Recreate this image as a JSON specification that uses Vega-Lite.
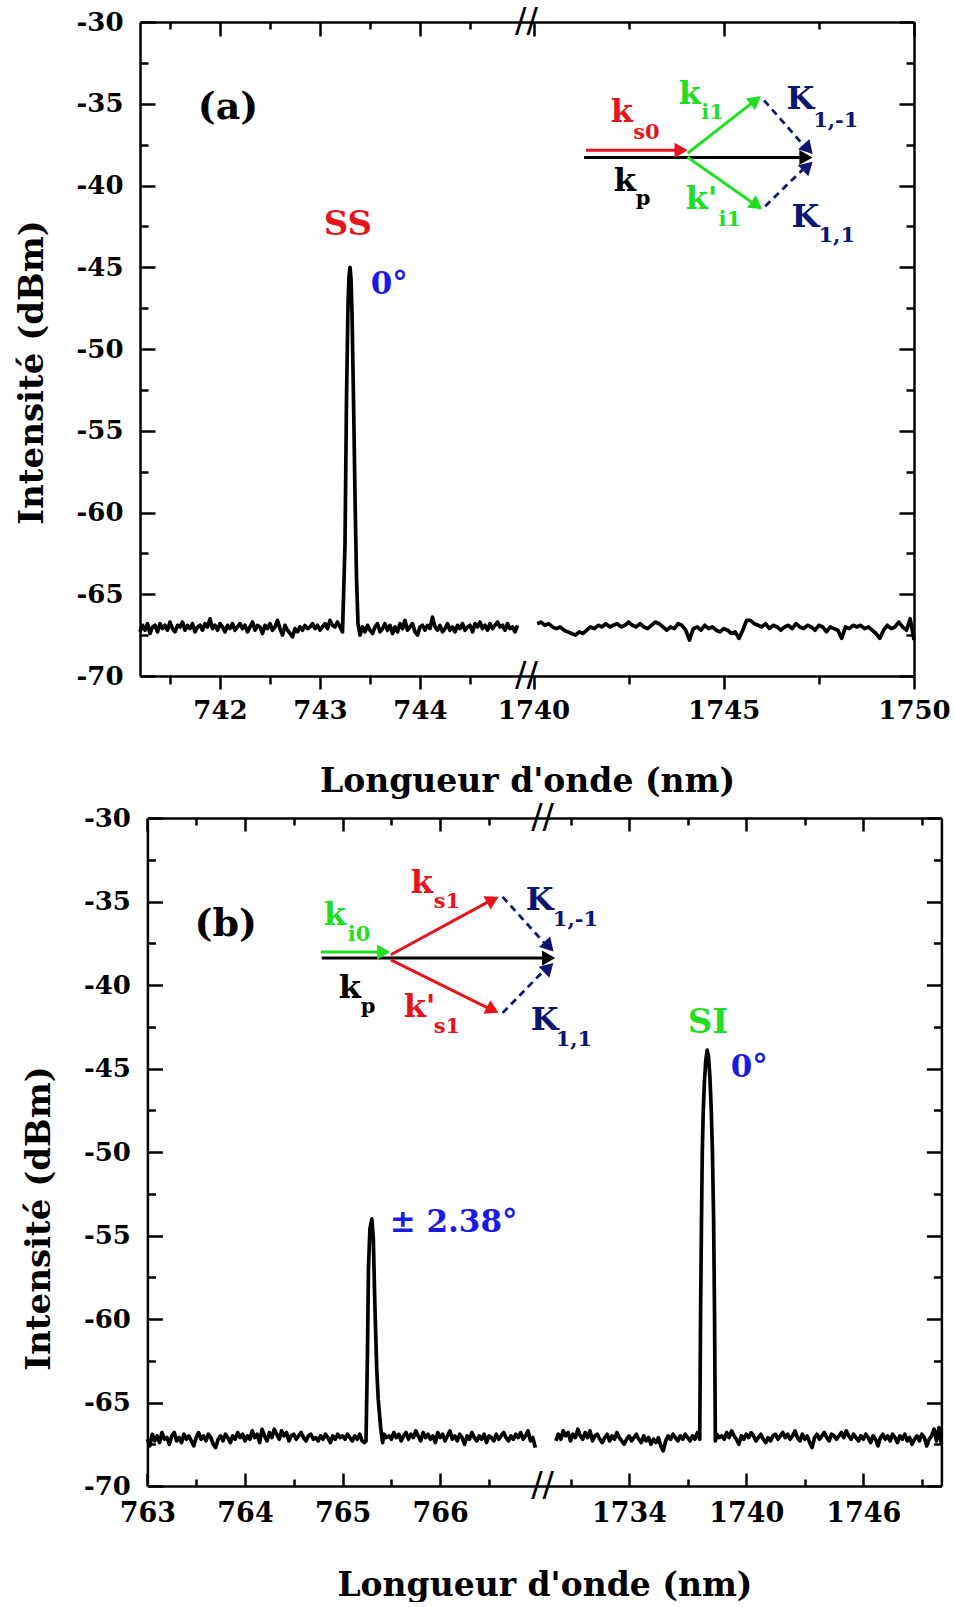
{
"$schema": "https://vega.github.io/schema/vega-lite/v6.json",
"padding": {"left": 15, "top": 5, "right": 0, "bottom": 0},
"config": {
  "view": {"stroke": null},
  "font": "DejaVu Serif",
  "axis": {"grid": false, "domainColor": "black", "domainWidth": 2.5, "tickColor": "black", "tickWidth": 2.5,
    "labelFont": "DejaVu Serif", "labelFontWeight": "bold", "labelFontSize": 26, "labelColor": "black",
    "titleFont": "DejaVu Serif", "titleFontWeight": "bold", "titleColor": "black", "labelFlush": false, "labelOverlap": false},
  "text": {"font": "DejaVu Serif", "fontWeight": "bold", "baseline": "alphabetic"}
},
"columns": 1,
"spacing": 3,
"align": "none",
"bounds": "full",
"resolve": {"scale": {"x": "independent", "y": "independent", "color": "independent", "angle": "independent"}},
"datasets": {
"aL": [
{"g":"L","x":741.2,"y":-67.3},{"g":"L","x":741.225,"y":-66.9},{"g":"L","x":741.25,"y":-67.2},{"g":"L","x":741.275,"y":-66.8},{"g":"L","x":741.3,"y":-67.4},{"g":"L","x":741.325,"y":-67.0},{"g":"L","x":741.35,"y":-66.9},{"g":"L","x":741.375,"y":-67.3},{"g":"L","x":741.4,"y":-66.8},{"g":"L","x":741.425,"y":-67.1},
{"g":"L","x":741.45,"y":-66.9},{"g":"L","x":741.475,"y":-67.2},{"g":"L","x":741.5,"y":-66.7},{"g":"L","x":741.525,"y":-67.1},{"g":"L","x":741.55,"y":-67.3},{"g":"L","x":741.575,"y":-66.9},{"g":"L","x":741.6,"y":-67.0},{"g":"L","x":741.625,"y":-66.7},{"g":"L","x":741.65,"y":-67.2},{"g":"L","x":741.675,"y":-66.9},
{"g":"L","x":741.7,"y":-67.1},{"g":"L","x":741.725,"y":-66.8},{"g":"L","x":741.75,"y":-67.3},{"g":"L","x":741.775,"y":-67.0},{"g":"L","x":741.8,"y":-66.9},{"g":"L","x":741.825,"y":-67.2},{"g":"L","x":741.85,"y":-66.8},{"g":"L","x":741.875,"y":-67.0},{"g":"L","x":741.9,"y":-66.5},{"g":"L","x":741.925,"y":-67.1},
{"g":"L","x":741.95,"y":-66.9},{"g":"L","x":741.975,"y":-67.2},{"g":"L","x":742.0,"y":-66.8},{"g":"L","x":742.025,"y":-67.0},{"g":"L","x":742.05,"y":-67.3},{"g":"L","x":742.075,"y":-66.9},{"g":"L","x":742.1,"y":-67.1},{"g":"L","x":742.125,"y":-66.8},{"g":"L","x":742.15,"y":-67.2},{"g":"L","x":742.175,"y":-67.0},
{"g":"L","x":742.2,"y":-66.8},{"g":"L","x":742.225,"y":-67.1},{"g":"L","x":742.25,"y":-66.9},{"g":"L","x":742.275,"y":-67.3},{"g":"L","x":742.3,"y":-67.0},{"g":"L","x":742.325,"y":-66.7},{"g":"L","x":742.35,"y":-67.2},{"g":"L","x":742.375,"y":-66.9},{"g":"L","x":742.4,"y":-67.0},{"g":"L","x":742.425,"y":-67.4},
{"g":"L","x":742.45,"y":-66.9},{"g":"L","x":742.475,"y":-67.1},{"g":"L","x":742.5,"y":-66.8},{"g":"L","x":742.525,"y":-67.2},{"g":"L","x":742.55,"y":-67.0},{"g":"L","x":742.575,"y":-66.6},{"g":"L","x":742.6,"y":-67.1},{"g":"L","x":742.625,"y":-67.5},{"g":"L","x":742.65,"y":-66.9},{"g":"L","x":742.675,"y":-67.2},
{"g":"L","x":742.7,"y":-67.4},{"g":"L","x":742.725,"y":-67.6},{"g":"L","x":742.75,"y":-67.1},{"g":"L","x":742.775,"y":-67.3},{"g":"L","x":742.8,"y":-67.0},{"g":"L","x":742.825,"y":-67.2},{"g":"L","x":742.85,"y":-66.9},{"g":"L","x":742.875,"y":-67.1},{"g":"L","x":742.9,"y":-67.0},{"g":"L","x":742.925,"y":-66.8},
{"g":"L","x":742.95,"y":-67.1},{"g":"L","x":742.975,"y":-66.9},{"g":"L","x":743.0,"y":-67.2},{"g":"L","x":743.025,"y":-67.0},{"g":"L","x":743.05,"y":-66.8},{"g":"L","x":743.075,"y":-67.1},{"g":"L","x":743.1,"y":-66.6},{"g":"L","x":743.125,"y":-66.9},{"g":"L","x":743.15,"y":-67.0},{"g":"L","x":743.175,"y":-66.7},
{"g":"L","x":743.2,"y":-67.0},
{"g":"L","x":743.225,"y":-67.3},{"g":"L","x":743.25,"y":-62},{"g":"L","x":743.265,"y":-53},{"g":"L","x":743.28,"y":-47.3},{"g":"L","x":743.29,"y":-45.6},{"g":"L","x":743.3,"y":-45.0},{"g":"L","x":743.31,"y":-45.7},{"g":"L","x":743.32,"y":-47.8},{"g":"L","x":743.335,"y":-53},{"g":"L","x":743.35,"y":-59},{"g":"L","x":743.365,"y":-64},{"g":"L","x":743.38,"y":-66.8},{"g":"L","x":743.4,"y":-67.5},
{"g":"L","x":743.425,"y":-67.0},{"g":"L","x":743.45,"y":-67.3},{"g":"L","x":743.475,"y":-66.9},{"g":"L","x":743.5,"y":-67.2},{"g":"L","x":743.525,"y":-67.4},{"g":"L","x":743.55,"y":-67.0},{"g":"L","x":743.575,"y":-66.8},{"g":"L","x":743.6,"y":-67.3},{"g":"L","x":743.625,"y":-67.1},{"g":"L","x":743.65,"y":-66.8},
{"g":"L","x":743.675,"y":-67.2},{"g":"L","x":743.7,"y":-66.9},{"g":"L","x":743.725,"y":-67.4},{"g":"L","x":743.75,"y":-67.0},{"g":"L","x":743.775,"y":-67.3},{"g":"L","x":743.8,"y":-66.8},{"g":"L","x":743.825,"y":-67.1},{"g":"L","x":743.85,"y":-66.6},{"g":"L","x":743.875,"y":-67.2},{"g":"L","x":743.9,"y":-67.0},
{"g":"L","x":743.925,"y":-66.8},{"g":"L","x":743.95,"y":-67.3},{"g":"L","x":743.975,"y":-67.5},{"g":"L","x":744.0,"y":-67.0},{"g":"L","x":744.025,"y":-66.9},{"g":"L","x":744.05,"y":-67.2},{"g":"L","x":744.075,"y":-66.9},{"g":"L","x":744.1,"y":-67.1},{"g":"L","x":744.125,"y":-66.4},{"g":"L","x":744.15,"y":-67.0},
{"g":"L","x":744.175,"y":-67.2},{"g":"L","x":744.2,"y":-66.9},{"g":"L","x":744.225,"y":-67.3},{"g":"L","x":744.25,"y":-67.1},{"g":"L","x":744.275,"y":-66.8},{"g":"L","x":744.3,"y":-67.2},{"g":"L","x":744.325,"y":-67.0},{"g":"L","x":744.35,"y":-67.3},{"g":"L","x":744.375,"y":-66.9},{"g":"L","x":744.4,"y":-67.1},
{"g":"L","x":744.425,"y":-66.8},{"g":"L","x":744.45,"y":-67.2},{"g":"L","x":744.475,"y":-67.0},{"g":"L","x":744.5,"y":-66.9},{"g":"L","x":744.525,"y":-67.3},{"g":"L","x":744.55,"y":-66.8},{"g":"L","x":744.575,"y":-67.0},{"g":"L","x":744.6,"y":-66.7},{"g":"L","x":744.625,"y":-67.1},{"g":"L","x":744.65,"y":-66.9},
{"g":"L","x":744.675,"y":-67.2},{"g":"L","x":744.7,"y":-66.8},{"g":"L","x":744.725,"y":-67.1},{"g":"L","x":744.75,"y":-66.9},{"g":"L","x":744.775,"y":-66.7},{"g":"L","x":744.8,"y":-67.0},{"g":"L","x":744.825,"y":-66.9},{"g":"L","x":744.85,"y":-67.2},{"g":"L","x":744.875,"y":-66.8},{"g":"L","x":744.9,"y":-67.1},{"g":"L","x":744.925,"y":-67.0},{"g":"L","x":744.95,"y":-67.3},{"g":"L","x":744.975,"y":-66.9},
{"g":"R","x":1740.1,"y":-66.8},{"g":"R","x":1740.2,"y":-66.7},{"g":"R","x":1740.3,"y":-66.9},{"g":"R","x":1740.4,"y":-66.8},{"g":"R","x":1740.5,"y":-67.0},{"g":"R","x":1740.6,"y":-67.1},{"g":"R","x":1740.7,"y":-67.0},{"g":"R","x":1740.8,"y":-67.2},{"g":"R","x":1740.9,"y":-67.3},{"g":"R","x":1741.0,"y":-67.4},
{"g":"R","x":1741.1,"y":-67.5},{"g":"R","x":1741.2,"y":-67.3},{"g":"R","x":1741.3,"y":-67.4},{"g":"R","x":1741.4,"y":-67.2},{"g":"R","x":1741.5,"y":-67.0},{"g":"R","x":1741.6,"y":-67.1},{"g":"R","x":1741.7,"y":-66.9},{"g":"R","x":1741.8,"y":-67.0},{"g":"R","x":1741.9,"y":-66.8},{"g":"R","x":1742.0,"y":-67.0},
{"g":"R","x":1742.1,"y":-66.9},{"g":"R","x":1742.2,"y":-66.8},{"g":"R","x":1742.3,"y":-67.0},{"g":"R","x":1742.4,"y":-66.9},{"g":"R","x":1742.5,"y":-66.7},{"g":"R","x":1742.6,"y":-66.9},{"g":"R","x":1742.7,"y":-67.0},{"g":"R","x":1742.8,"y":-66.8},{"g":"R","x":1742.9,"y":-67.0},{"g":"R","x":1743.0,"y":-67.1},
{"g":"R","x":1743.1,"y":-66.9},{"g":"R","x":1743.2,"y":-66.7},{"g":"R","x":1743.3,"y":-66.8},{"g":"R","x":1743.4,"y":-67.0},{"g":"R","x":1743.5,"y":-67.2},{"g":"R","x":1743.6,"y":-67.0},{"g":"R","x":1743.7,"y":-67.1},{"g":"R","x":1743.8,"y":-66.8},{"g":"R","x":1743.9,"y":-66.9},{"g":"R","x":1744.0,"y":-67.2},
{"g":"R","x":1744.1,"y":-67.8},{"g":"R","x":1744.2,"y":-67.1},{"g":"R","x":1744.3,"y":-67.0},{"g":"R","x":1744.4,"y":-67.2},{"g":"R","x":1744.5,"y":-66.9},{"g":"R","x":1744.6,"y":-67.1},{"g":"R","x":1744.7,"y":-67.0},{"g":"R","x":1744.8,"y":-67.2},{"g":"R","x":1744.9,"y":-67.3},{"g":"R","x":1745.0,"y":-67.1},
{"g":"R","x":1745.1,"y":-67.2},{"g":"R","x":1745.2,"y":-67.4},{"g":"R","x":1745.3,"y":-67.3},{"g":"R","x":1745.4,"y":-67.7},{"g":"R","x":1745.5,"y":-67.2},{"g":"R","x":1745.6,"y":-66.6},{"g":"R","x":1745.7,"y":-66.6},{"g":"R","x":1745.8,"y":-66.8},{"g":"R","x":1745.9,"y":-66.9},{"g":"R","x":1746.0,"y":-67.0},
{"g":"R","x":1746.1,"y":-66.8},{"g":"R","x":1746.2,"y":-67.1},{"g":"R","x":1746.3,"y":-66.9},{"g":"R","x":1746.4,"y":-67.0},{"g":"R","x":1746.5,"y":-67.2},{"g":"R","x":1746.6,"y":-67.0},{"g":"R","x":1746.7,"y":-66.9},{"g":"R","x":1746.8,"y":-67.1},{"g":"R","x":1746.9,"y":-66.8},{"g":"R","x":1747.0,"y":-67.0},
{"g":"R","x":1747.1,"y":-67.1},{"g":"R","x":1747.2,"y":-66.9},{"g":"R","x":1747.3,"y":-67.0},{"g":"R","x":1747.4,"y":-67.2},{"g":"R","x":1747.5,"y":-66.9},{"g":"R","x":1747.6,"y":-67.0},{"g":"R","x":1747.7,"y":-67.3},{"g":"R","x":1747.8,"y":-67.0},{"g":"R","x":1747.9,"y":-67.1},{"g":"R","x":1748.0,"y":-67.2},
{"g":"R","x":1748.1,"y":-67.7},{"g":"R","x":1748.2,"y":-67.0},{"g":"R","x":1748.3,"y":-67.1},{"g":"R","x":1748.4,"y":-66.9},{"g":"R","x":1748.5,"y":-67.0},{"g":"R","x":1748.6,"y":-66.9},{"g":"R","x":1748.7,"y":-67.1},{"g":"R","x":1748.8,"y":-67.0},{"g":"R","x":1748.9,"y":-67.2},{"g":"R","x":1749.0,"y":-67.4},
{"g":"R","x":1749.1,"y":-67.7},{"g":"R","x":1749.2,"y":-67.2},{"g":"R","x":1749.3,"y":-66.9},{"g":"R","x":1749.4,"y":-67.1},{"g":"R","x":1749.5,"y":-67.0},{"g":"R","x":1749.6,"y":-66.7},{"g":"R","x":1749.7,"y":-67.0},{"g":"R","x":1749.8,"y":-67.2},{"g":"R","x":1749.9,"y":-66.5},{"g":"R","x":1750.0,"y":-67.8}
],
"aS": [
{"x":1741.33,"y":-38.29,"x2":1747.2,"y2":-38.29,"c":"p"},
{"x":1741.38,"y":-37.85,"x2":1743.98,"y2":-37.85,"c":"s"},
{"x":1744.05,"y":-38.03,"x2":1745.93,"y2":-34.61,"c":"i"},
{"x":1744.05,"y":-38.27,"x2":1745.96,"y2":-41.39,"c":"i"}
],
"aD": [
{"x":1746.06,"y":-34.79,"x2":1747.19,"y2":-37.79},
{"x":1746.09,"y":-41.27,"x2":1747.19,"y2":-38.76}
],
"aH": [
{"x":1743.88,"y":-37.85,"a":0,"c":"s"},
{"x":1745.84,"y":-34.79,"a":322.5,"c":"i"},
{"x":1745.87,"y":-41.21,"a":34.7,"c":"i"},
{"x":1747.16,"y":-38.29,"a":0,"c":"p"},
{"x":1747.22,"y":-37.77,"a":47.7,"c":"K"},
{"x":1747.21,"y":-38.82,"a":316.2,"c":"K"}
],
"aT": [
{"x":1742.03,"y":-36.14,"t":"k","c":"s","r":"vec"},
{"x":1742.62,"y":-37.18,"t":"s0","c":"s","r":"sub"},
{"x":1743.82,"y":-35.03,"t":"k","c":"i","r":"vec"},
{"x":1744.41,"y":-35.95,"t":"i1","c":"i","r":"sub"},
{"x":1746.65,"y":-35.34,"t":"K","c":"K","r":"vec"},
{"x":1747.35,"y":-36.44,"t":"1,-1","c":"K","r":"sub"},
{"x":1742.11,"y":-40.35,"t":"k","c":"p","r":"vec"},
{"x":1742.69,"y":-41.2,"t":"p","c":"p","r":"sub"},
{"x":1744.0,"y":-41.46,"t":"k'","c":"i","r":"vec"},
{"x":1744.86,"y":-42.5,"t":"i1","c":"i","r":"sub"},
{"x":1746.78,"y":-42.56,"t":"K","c":"K","r":"vec"},
{"x":1747.49,"y":-43.48,"t":"1,1","c":"K","r":"sub"},
{"x":743.507,"y":-46.66,"t":"0°","c":"ang","r":"ang"},
{"x":742.08,"y":-35.96,"t":"(a)","c":"p","r":"panel"},
{"x":743.28,"y":-43.0,"t":"SS","c":"s","r":"peak"}
],
"aB": [{"x":1000,"y":-30},{"x":1000,"y":-70}],
"bL": [
{"g":"L","x":763.0,"y":-67.2},{"g":"L","x":763.025,"y":-67.6},{"g":"L","x":763.05,"y":-66.9},{"g":"L","x":763.075,"y":-67.3},{"g":"L","x":763.1,"y":-67.0},{"g":"L","x":763.125,"y":-67.4},{"g":"L","x":763.15,"y":-66.8},{"g":"L","x":763.175,"y":-67.2},{"g":"L","x":763.2,"y":-67.1},{"g":"L","x":763.225,"y":-67.5},
{"g":"L","x":763.25,"y":-67.0},{"g":"L","x":763.275,"y":-66.8},{"g":"L","x":763.3,"y":-67.3},{"g":"L","x":763.325,"y":-67.1},{"g":"L","x":763.35,"y":-67.4},{"g":"L","x":763.375,"y":-66.9},{"g":"L","x":763.4,"y":-67.2},{"g":"L","x":763.425,"y":-67.0},{"g":"L","x":763.45,"y":-67.3},{"g":"L","x":763.475,"y":-67.6},
{"g":"L","x":763.5,"y":-67.1},{"g":"L","x":763.525,"y":-66.8},{"g":"L","x":763.55,"y":-67.2},{"g":"L","x":763.575,"y":-67.0},{"g":"L","x":763.6,"y":-67.3},{"g":"L","x":763.625,"y":-66.9},{"g":"L","x":763.65,"y":-67.1},{"g":"L","x":763.675,"y":-67.5},{"g":"L","x":763.7,"y":-67.7},{"g":"L","x":763.725,"y":-67.2},
{"g":"L","x":763.75,"y":-67.0},{"g":"L","x":763.775,"y":-67.3},{"g":"L","x":763.8,"y":-66.9},{"g":"L","x":763.825,"y":-67.1},{"g":"L","x":763.85,"y":-67.4},{"g":"L","x":763.875,"y":-67.0},{"g":"L","x":763.9,"y":-67.2},{"g":"L","x":763.925,"y":-66.8},{"g":"L","x":763.95,"y":-67.1},{"g":"L","x":763.975,"y":-66.9},
{"g":"L","x":764.0,"y":-67.3},{"g":"L","x":764.025,"y":-67.0},{"g":"L","x":764.05,"y":-67.2},{"g":"L","x":764.075,"y":-66.7},{"g":"L","x":764.1,"y":-67.1},{"g":"L","x":764.125,"y":-66.9},{"g":"L","x":764.15,"y":-67.4},{"g":"L","x":764.175,"y":-66.6},{"g":"L","x":764.2,"y":-67.0},{"g":"L","x":764.225,"y":-67.3},
{"g":"L","x":764.25,"y":-66.8},{"g":"L","x":764.275,"y":-67.1},{"g":"L","x":764.3,"y":-66.6},{"g":"L","x":764.325,"y":-66.9},{"g":"L","x":764.35,"y":-67.2},{"g":"L","x":764.375,"y":-66.7},{"g":"L","x":764.4,"y":-67.0},{"g":"L","x":764.425,"y":-66.8},{"g":"L","x":764.45,"y":-67.3},{"g":"L","x":764.475,"y":-67.0},
{"g":"L","x":764.5,"y":-66.9},{"g":"L","x":764.525,"y":-67.2},{"g":"L","x":764.55,"y":-67.0},{"g":"L","x":764.575,"y":-66.8},{"g":"L","x":764.6,"y":-67.1},{"g":"L","x":764.625,"y":-67.3},{"g":"L","x":764.65,"y":-67.0},{"g":"L","x":764.675,"y":-66.9},{"g":"L","x":764.7,"y":-67.2},{"g":"L","x":764.725,"y":-67.1},
{"g":"L","x":764.75,"y":-67.3},{"g":"L","x":764.775,"y":-67.0},{"g":"L","x":764.8,"y":-67.2},{"g":"L","x":764.825,"y":-66.9},{"g":"L","x":764.85,"y":-67.1},{"g":"L","x":764.875,"y":-67.4},{"g":"L","x":764.9,"y":-67.0},{"g":"L","x":764.925,"y":-67.2},{"g":"L","x":764.95,"y":-66.9},{"g":"L","x":764.975,"y":-67.1},
{"g":"L","x":765.0,"y":-67.0},{"g":"L","x":765.025,"y":-67.2},{"g":"L","x":765.05,"y":-66.9},{"g":"L","x":765.075,"y":-67.1},{"g":"L","x":765.1,"y":-67.3},{"g":"L","x":765.125,"y":-67.0},{"g":"L","x":765.15,"y":-67.2},{"g":"L","x":765.175,"y":-66.9},{"g":"L","x":765.2,"y":-67.3},{"g":"L","x":765.225,"y":-67.4},
{"g":"L","x":765.24,"y":-67.3},{"g":"L","x":765.255,"y":-62},{"g":"L","x":765.265,"y":-57},{"g":"L","x":765.28,"y":-54.6},{"g":"L","x":765.3,"y":-54.0},{"g":"L","x":765.315,"y":-55.2},{"g":"L","x":765.33,"y":-59},{"g":"L","x":765.35,"y":-63},{"g":"L","x":765.365,"y":-64.8},{"g":"L","x":765.39,"y":-66.5},{"g":"L","x":765.41,"y":-67.4},
{"g":"L","x":765.425,"y":-66.9},{"g":"L","x":765.45,"y":-67.1},{"g":"L","x":765.475,"y":-67.0},{"g":"L","x":765.5,"y":-67.2},{"g":"L","x":765.525,"y":-66.8},{"g":"L","x":765.55,"y":-67.1},{"g":"L","x":765.575,"y":-66.9},{"g":"L","x":765.6,"y":-67.3},{"g":"L","x":765.625,"y":-67.0},{"g":"L","x":765.65,"y":-66.8},
{"g":"L","x":765.675,"y":-67.2},{"g":"L","x":765.7,"y":-66.9},{"g":"L","x":765.725,"y":-67.1},{"g":"L","x":765.75,"y":-66.7},{"g":"L","x":765.775,"y":-67.0},{"g":"L","x":765.8,"y":-67.3},{"g":"L","x":765.825,"y":-66.8},{"g":"L","x":765.85,"y":-67.1},{"g":"L","x":765.875,"y":-66.9},{"g":"L","x":765.9,"y":-67.2},
{"g":"L","x":765.925,"y":-67.0},{"g":"L","x":765.95,"y":-67.4},{"g":"L","x":765.975,"y":-66.8},{"g":"L","x":766.0,"y":-67.1},{"g":"L","x":766.025,"y":-66.9},{"g":"L","x":766.05,"y":-67.3},{"g":"L","x":766.075,"y":-67.0},{"g":"L","x":766.1,"y":-66.7},{"g":"L","x":766.125,"y":-67.2},{"g":"L","x":766.15,"y":-67.0},
{"g":"L","x":766.175,"y":-67.3},{"g":"L","x":766.2,"y":-66.9},{"g":"L","x":766.225,"y":-67.1},{"g":"L","x":766.25,"y":-67.5},{"g":"L","x":766.275,"y":-67.0},{"g":"L","x":766.3,"y":-67.2},{"g":"L","x":766.325,"y":-66.8},{"g":"L","x":766.35,"y":-67.1},{"g":"L","x":766.375,"y":-67.3},{"g":"L","x":766.4,"y":-67.0},
{"g":"L","x":766.425,"y":-67.2},{"g":"L","x":766.45,"y":-66.9},{"g":"L","x":766.475,"y":-67.4},{"g":"L","x":766.5,"y":-67.0},{"g":"L","x":766.525,"y":-67.1},{"g":"L","x":766.55,"y":-67.3},{"g":"L","x":766.575,"y":-66.9},{"g":"L","x":766.6,"y":-67.2},{"g":"L","x":766.625,"y":-67.0},{"g":"L","x":766.65,"y":-66.8},
{"g":"L","x":766.675,"y":-67.1},{"g":"L","x":766.7,"y":-67.3},{"g":"L","x":766.725,"y":-67.0},{"g":"L","x":766.75,"y":-67.2},{"g":"L","x":766.775,"y":-66.9},{"g":"L","x":766.8,"y":-67.1},{"g":"L","x":766.825,"y":-66.8},{"g":"L","x":766.85,"y":-67.2},{"g":"L","x":766.875,"y":-67.0},{"g":"L","x":766.9,"y":-66.7},{"g":"L","x":766.925,"y":-67.3},{"g":"L","x":766.95,"y":-67.1},{"g":"L","x":766.975,"y":-67.7},
{"g":"R","x":1730.25,"y":-67.3},{"g":"R","x":1730.375,"y":-66.9},{"g":"R","x":1730.5,"y":-67.2},{"g":"R","x":1730.625,"y":-66.7},{"g":"R","x":1730.75,"y":-67.0},{"g":"R","x":1730.875,"y":-66.8},{"g":"R","x":1731.0,"y":-67.3},{"g":"R","x":1731.125,"y":-66.9},{"g":"R","x":1731.25,"y":-67.1},{"g":"R","x":1731.375,"y":-66.6},
{"g":"R","x":1731.5,"y":-67.0},{"g":"R","x":1731.625,"y":-67.2},{"g":"R","x":1731.75,"y":-66.8},{"g":"R","x":1731.875,"y":-67.1},{"g":"R","x":1732.0,"y":-66.7},{"g":"R","x":1732.125,"y":-67.3},{"g":"R","x":1732.25,"y":-67.0},{"g":"R","x":1732.375,"y":-66.9},{"g":"R","x":1732.5,"y":-67.2},{"g":"R","x":1732.625,"y":-67.4},
{"g":"R","x":1732.75,"y":-67.1},{"g":"R","x":1732.875,"y":-66.9},{"g":"R","x":1733.0,"y":-67.3},{"g":"R","x":1733.125,"y":-67.0},{"g":"R","x":1733.25,"y":-67.2},{"g":"R","x":1733.375,"y":-66.8},{"g":"R","x":1733.5,"y":-67.1},{"g":"R","x":1733.625,"y":-67.3},{"g":"R","x":1733.75,"y":-67.5},{"g":"R","x":1733.875,"y":-67.2},
{"g":"R","x":1734.0,"y":-67.0},{"g":"R","x":1734.125,"y":-67.3},{"g":"R","x":1734.25,"y":-67.1},{"g":"R","x":1734.375,"y":-66.9},{"g":"R","x":1734.5,"y":-67.2},{"g":"R","x":1734.625,"y":-67.4},{"g":"R","x":1734.75,"y":-67.0},{"g":"R","x":1734.875,"y":-67.3},{"g":"R","x":1735.0,"y":-67.1},{"g":"R","x":1735.125,"y":-67.5},
{"g":"R","x":1735.25,"y":-67.2},{"g":"R","x":1735.375,"y":-67.4},{"g":"R","x":1735.5,"y":-67.1},{"g":"R","x":1735.625,"y":-67.6},{"g":"R","x":1735.75,"y":-67.9},{"g":"R","x":1735.875,"y":-67.3},{"g":"R","x":1736.0,"y":-67.0},{"g":"R","x":1736.125,"y":-67.2},{"g":"R","x":1736.25,"y":-66.9},{"g":"R","x":1736.375,"y":-67.1},
{"g":"R","x":1736.5,"y":-67.3},{"g":"R","x":1736.625,"y":-67.0},{"g":"R","x":1736.75,"y":-67.2},{"g":"R","x":1736.875,"y":-66.9},{"g":"R","x":1737.0,"y":-67.1},{"g":"R","x":1737.125,"y":-67.3},{"g":"R","x":1737.25,"y":-67.0},{"g":"R","x":1737.375,"y":-67.2},{"g":"R","x":1737.5,"y":-66.8},
{"g":"R","x":1737.62,"y":-67.2},{"g":"R","x":1737.66,"y":-60},{"g":"R","x":1737.71,"y":-54},{"g":"R","x":1737.75,"y":-50},{"g":"R","x":1737.8,"y":-47.5},{"g":"R","x":1737.86,"y":-45.8},{"g":"R","x":1737.93,"y":-44.5},{"g":"R","x":1738.0,"y":-43.9},{"g":"R","x":1738.07,"y":-44.3},{"g":"R","x":1738.14,"y":-45.5},{"g":"R","x":1738.21,"y":-47.5},{"g":"R","x":1738.27,"y":-50},{"g":"R","x":1738.33,"y":-54},{"g":"R","x":1738.38,"y":-60},{"g":"R","x":1738.42,"y":-67.3},
{"g":"R","x":1738.5,"y":-66.9},{"g":"R","x":1738.625,"y":-67.1},{"g":"R","x":1738.75,"y":-67.0},{"g":"R","x":1738.875,"y":-67.2},{"g":"R","x":1739.0,"y":-66.8},{"g":"R","x":1739.125,"y":-67.1},{"g":"R","x":1739.25,"y":-66.7},{"g":"R","x":1739.375,"y":-67.0},{"g":"R","x":1739.5,"y":-67.2},{"g":"R","x":1739.625,"y":-67.5},
{"g":"R","x":1739.75,"y":-67.0},{"g":"R","x":1739.875,"y":-67.2},{"g":"R","x":1740.0,"y":-66.9},{"g":"R","x":1740.125,"y":-67.1},{"g":"R","x":1740.25,"y":-66.8},{"g":"R","x":1740.375,"y":-67.0},{"g":"R","x":1740.5,"y":-67.3},{"g":"R","x":1740.625,"y":-67.1},{"g":"R","x":1740.75,"y":-66.9},{"g":"R","x":1740.875,"y":-67.2},
{"g":"R","x":1741.0,"y":-67.4},{"g":"R","x":1741.125,"y":-67.1},{"g":"R","x":1741.25,"y":-67.3},{"g":"R","x":1741.375,"y":-67.0},{"g":"R","x":1741.5,"y":-66.9},{"g":"R","x":1741.625,"y":-67.2},{"g":"R","x":1741.75,"y":-67.0},{"g":"R","x":1741.875,"y":-66.8},{"g":"R","x":1742.0,"y":-67.1},{"g":"R","x":1742.125,"y":-66.9},
{"g":"R","x":1742.25,"y":-67.2},{"g":"R","x":1742.375,"y":-67.0},{"g":"R","x":1742.5,"y":-66.7},{"g":"R","x":1742.625,"y":-67.1},{"g":"R","x":1742.75,"y":-67.3},{"g":"R","x":1742.875,"y":-66.9},{"g":"R","x":1743.0,"y":-67.2},{"g":"R","x":1743.125,"y":-67.0},{"g":"R","x":1743.25,"y":-67.4},{"g":"R","x":1743.375,"y":-67.7},
{"g":"R","x":1743.5,"y":-67.1},{"g":"R","x":1743.625,"y":-66.9},{"g":"R","x":1743.75,"y":-67.2},{"g":"R","x":1743.875,"y":-67.0},{"g":"R","x":1744.0,"y":-66.8},{"g":"R","x":1744.125,"y":-67.1},{"g":"R","x":1744.25,"y":-67.3},{"g":"R","x":1744.375,"y":-66.9},{"g":"R","x":1744.5,"y":-67.0},{"g":"R","x":1744.625,"y":-67.2},
{"g":"R","x":1744.75,"y":-67.0},{"g":"R","x":1744.875,"y":-66.8},{"g":"R","x":1745.0,"y":-67.1},{"g":"R","x":1745.125,"y":-66.7},{"g":"R","x":1745.25,"y":-67.0},{"g":"R","x":1745.375,"y":-67.2},{"g":"R","x":1745.5,"y":-66.9},{"g":"R","x":1745.625,"y":-67.1},{"g":"R","x":1745.75,"y":-67.3},{"g":"R","x":1745.875,"y":-67.0},
{"g":"R","x":1746.0,"y":-67.2},{"g":"R","x":1746.125,"y":-66.9},{"g":"R","x":1746.25,"y":-67.1},{"g":"R","x":1746.375,"y":-67.4},{"g":"R","x":1746.5,"y":-67.0},{"g":"R","x":1746.625,"y":-67.2},{"g":"R","x":1746.75,"y":-67.6},{"g":"R","x":1746.875,"y":-67.1},{"g":"R","x":1747.0,"y":-66.9},{"g":"R","x":1747.125,"y":-67.2},
{"g":"R","x":1747.25,"y":-67.0},{"g":"R","x":1747.375,"y":-67.3},{"g":"R","x":1747.5,"y":-66.9},{"g":"R","x":1747.625,"y":-67.1},{"g":"R","x":1747.75,"y":-67.4},{"g":"R","x":1747.875,"y":-67.0},{"g":"R","x":1748.0,"y":-67.2},{"g":"R","x":1748.125,"y":-66.9},{"g":"R","x":1748.25,"y":-67.3},{"g":"R","x":1748.375,"y":-67.1},
{"g":"R","x":1748.5,"y":-67.5},{"g":"R","x":1748.625,"y":-67.2},{"g":"R","x":1748.75,"y":-67.0},{"g":"R","x":1748.875,"y":-67.3},{"g":"R","x":1749.0,"y":-66.9},{"g":"R","x":1749.125,"y":-67.1},{"g":"R","x":1749.25,"y":-67.6},{"g":"R","x":1749.375,"y":-67.2},{"g":"R","x":1749.5,"y":-67.0},{"g":"R","x":1749.625,"y":-66.6},
{"g":"R","x":1749.75,"y":-67.3},{"g":"R","x":1749.875,"y":-66.5},{"g":"R","x":1750.0,"y":-67.5}
],
"bS": [
{"x":764.786,"y":-38.39,"x2":1729.98,"y2":-38.39,"c":"p"},
{"x":764.776,"y":-38.03,"x2":765.43,"y2":-38.03,"c":"i"},
{"x":765.494,"y":-38.19,"x2":766.548,"y2":-34.84,"c":"s"},
{"x":765.494,"y":-38.49,"x2":766.548,"y2":-41.55,"c":"s"}
],
"bD": [
{"x":766.64,"y":-34.72,"x2":1729.88,"y2":-37.77},
{"x":766.64,"y":-41.67,"x2":1729.88,"y2":-38.85}
],
"bH": [
{"x":765.421,"y":-38.03,"a":0,"c":"i"},
{"x":766.539,"y":-34.9,"a":331.7,"c":"s"},
{"x":766.539,"y":-41.49,"a":27,"c":"s"},
{"x":1729.88,"y":-38.39,"a":0,"c":"p"},
{"x":1729.9,"y":-37.7,"a":47.2,"c":"K"},
{"x":1729.88,"y":-38.96,"a":315.6,"c":"K"}
],
"bT": [
{"x":764.806,"y":-36.39,"t":"k","c":"i","r":"vec"},
{"x":765.052,"y":-37.39,"t":"i0","c":"i","r":"sub"},
{"x":765.698,"y":-34.48,"t":"k","c":"s","r":"vec"},
{"x":765.933,"y":-35.39,"t":"s1","c":"s","r":"sub"},
{"x":764.96,"y":-40.78,"t":"k","c":"p","r":"vec"},
{"x":765.185,"y":-41.68,"t":"p","c":"p","r":"sub"},
{"x":765.626,"y":-41.89,"t":"k'","c":"s","r":"vec"},
{"x":765.933,"y":-42.88,"t":"s1","c":"s","r":"sub"},
{"x":766.876,"y":-35.49,"t":"K","c":"K","r":"vec"},
{"x":1730.09,"y":-36.49,"t":"1,-1","c":"K","r":"sub"},
{"x":766.927,"y":-42.68,"t":"K","c":"K","r":"vec"},
{"x":1730.24,"y":-43.68,"t":"1,1","c":"K","r":"sub"},
{"x":1739.21,"y":-45.5,"t":"0°","c":"ang","r":"ang"},
{"x":765.483,"y":-54.79,"t":"± 2.38°","c":"ang","r":"ang"},
{"x":763.802,"y":-37.09,"t":"(b)","c":"p","r":"panel"},
{"x":1738.04,"y":-42.88,"t":"SI","c":"i","r":"peak"}
],
"bB": [{"x":1500,"y":-30},{"x":1500,"y":-70}]
},
"concat": [
{
 "width": 774, "height": 654,
 "resolve": {"axis": {"x": "independent", "y": "independent"}},
 "layer": [
  {
   "data": {"name": "aL"},
   "mark": {"type": "line", "color": "black", "strokeWidth": 3.7, "strokeJoin": "round"},
   "encoding": {
    "x": {"field": "x", "type": "quantitative",
      "scale": {"domain": [741.2, 745.04, 1740, 1750], "range": [0, 384, 393.5, 774], "nice": false, "zero": false},
      "axis": {"orient": "bottom", "values": [741.5,742,742.5,743,743.5,744,744.5,1740,1742.5,1745,1747.5,1750],
        "labelExpr": "datum.value % 1 === 0 ? '' + datum.value : ''",
        "tickSize": {"condition": {"test": "datum.value % 1 === 0", "value": 13}, "value": 8},
        "labelPadding": 8,
        "title": "Longueur d'onde (nm)", "titleFontSize": 33, "titleY": 115, "titleBaseline": "alphabetic"}},
    "y": {"field": "y", "type": "quantitative",
      "scale": {"domain": [-70, -30], "nice": false, "zero": false},
      "axis": {"orient": "left", "values": [-70,-67.5,-65,-62.5,-60,-57.5,-55,-52.5,-50,-47.5,-45,-42.5,-40,-37.5,-35,-32.5,-30],
        "labelExpr": "datum.value % 5 === 0 ? '' + datum.value : ''",
        "tickSize": {"condition": {"test": "datum.value % 5 === 0", "value": -15}, "value": -8},
        "labelPadding": 32,
        "title": "Intensité (dBm)", "titleFontSize": 34, "titleX": -107.8, "titleY": 350, "titleAngle": 270, "titleBaseline": "middle", "titleAlign": "center"}},
    "detail": {"field": "g"}
   }
  },
  {
   "data": {"name": "aB"},
   "mark": {"type": "text", "text": "//", "font": "DejaVu Sans", "fontWeight": "normal", "fontSize": 34, "baseline": "middle", "align": "center", "color": "black"},
   "encoding": {
    "x": {"field": "x", "type": "quantitative",
      "axis": {"orient": "top", "values": [741.5,742,742.5,743,743.5,744,744.5,1740,1742.5,1745,1747.5,1750], "labels": false, "title": null,
        "tickSize": {"condition": {"test": "datum.value % 1 === 0", "value": -14}, "value": -7}}},
    "y": {"field": "y", "type": "quantitative",
      "axis": {"orient": "right", "values": [-70,-67.5,-65,-62.5,-60,-57.5,-55,-52.5,-50,-47.5,-45,-42.5,-40,-37.5,-35,-32.5,-30], "labels": false, "title": null,
        "tickSize": {"condition": {"test": "datum.value % 5 === 0", "value": -15}, "value": -8}}}
   }
  },
  {
   "data": {"name": "aS"},
   "mark": {"type": "rule", "strokeWidth": 3},
   "encoding": {
    "x": {"field": "x", "type": "quantitative", "axis": null}, "y": {"field": "y", "type": "quantitative", "axis": null},
    "x2": {"field": "x2"}, "y2": {"field": "y2"},
    "color": {"field": "c", "type": "nominal", "scale": {"domain": ["s","i","p","K","ang"], "range": ["#e8141c","#22dd22","#000000","#0b1670","#1a1ae6"]}, "legend": null}
   }
  },
  {
   "data": {"name": "aD"},
   "mark": {"type": "rule", "strokeWidth": 2.8, "strokeDash": [7, 5], "color": "#0b1670"},
   "encoding": {
    "x": {"field": "x", "type": "quantitative", "axis": null}, "y": {"field": "y", "type": "quantitative", "axis": null},
    "x2": {"field": "x2"}, "y2": {"field": "y2"}
   }
  },
  {
   "data": {"name": "aH"},
   "mark": {"type": "point", "shape": "triangle-right", "filled": true, "size": 230, "opacity": 1},
   "encoding": {
    "x": {"field": "x", "type": "quantitative", "axis": null}, "y": {"field": "y", "type": "quantitative", "axis": null},
    "angle": {"field": "a", "type": "quantitative", "scale": {"domain": [0, 360], "range": [0, 360]}, "legend": null},
    "color": {"field": "c", "type": "nominal", "scale": {"domain": ["s","i","p","K","ang"], "range": ["#e8141c","#22dd22","#000000","#0b1670","#1a1ae6"]}, "legend": null}
   }
  },
  {
   "data": {"name": "aT"}, "transform": [{"filter": "datum.r === 'vec'"}],
   "mark": {"type": "text", "align": "left", "fontSize": 32},
   "encoding": {
    "x": {"field": "x", "type": "quantitative", "axis": null}, "y": {"field": "y", "type": "quantitative", "axis": null},
    "text": {"field": "t"},
    "color": {"field": "c", "type": "nominal", "scale": {"domain": ["s","i","p","K","ang"], "range": ["#e8141c","#22dd22","#000000","#0b1670","#1a1ae6"]}, "legend": null}
   }
  },
  {
   "data": {"name": "aT"}, "transform": [{"filter": "datum.r === 'sub'"}],
   "mark": {"type": "text", "align": "left", "fontSize": 21},
   "encoding": {
    "x": {"field": "x", "type": "quantitative", "axis": null}, "y": {"field": "y", "type": "quantitative", "axis": null},
    "text": {"field": "t"},
    "color": {"field": "c", "type": "nominal", "scale": {"domain": ["s","i","p","K","ang"], "range": ["#e8141c","#22dd22","#000000","#0b1670","#1a1ae6"]}, "legend": null}
   }
  },
  {
   "data": {"name": "aT"}, "transform": [{"filter": "datum.r === 'ang'"}],
   "mark": {"type": "text", "align": "left", "fontSize": 31},
   "encoding": {
    "x": {"field": "x", "type": "quantitative", "axis": null}, "y": {"field": "y", "type": "quantitative", "axis": null},
    "text": {"field": "t"},
    "color": {"field": "c", "type": "nominal", "scale": {"domain": ["s","i","p","K","ang"], "range": ["#e8141c","#22dd22","#000000","#0b1670","#1a1ae6"]}, "legend": null}
   }
  },
  {
   "data": {"name": "aT"}, "transform": [{"filter": "datum.r === 'peak'"}],
   "mark": {"type": "text", "align": "center", "fontSize": 34},
   "encoding": {
    "x": {"field": "x", "type": "quantitative", "axis": null}, "y": {"field": "y", "type": "quantitative", "axis": null},
    "text": {"field": "t"},
    "color": {"field": "c", "type": "nominal", "scale": {"domain": ["s","i","p","K","ang"], "range": ["#e8141c","#22dd22","#000000","#0b1670","#1a1ae6"]}, "legend": null}
   }
  },
  {
   "data": {"name": "aT"}, "transform": [{"filter": "datum.r === 'panel'"}],
   "mark": {"type": "text", "align": "center", "fontSize": 38},
   "encoding": {
    "x": {"field": "x", "type": "quantitative", "axis": null}, "y": {"field": "y", "type": "quantitative", "axis": null},
    "text": {"field": "t"},
    "color": {"field": "c", "type": "nominal", "scale": {"domain": ["s","i","p","K","ang"], "range": ["#e8141c","#22dd22","#000000","#0b1670","#1a1ae6"]}, "legend": null}
   }
  }
 ]
},
{
 "width": 801.4, "height": 668,
 "resolve": {"axis": {"x": "independent", "y": "independent"}},
 "layer": [
  {
   "data": {"name": "bL"},
   "mark": {"type": "line", "color": "black", "strokeWidth": 3.7, "strokeJoin": "round"},
   "encoding": {
    "x": {"field": "x", "type": "quantitative",
      "scale": {"domain": [763, 767.03, 1729.6, 1750], "range": [7.4, 400.7, 403.2, 801.4], "nice": false, "zero": false},
      "axis": {"orient": "bottom", "values": [763,763.5,764,764.5,765,765.5,766,766.5,1731,1734,1737,1740,1743,1746,1749],
        "labelExpr": "indexof([763,764,765,766,1734,1740,1746], datum.value) >= 0 ? '' + datum.value : ''",
        "tickSize": {"condition": {"test": "indexof([763,764,765,766,1734,1740,1746], datum.value) >= 0", "value": -13}, "value": -7},
        "labelPadding": 27, "labelFontSize": 27,
        "title": "Longueur d'onde (nm)", "titleFontSize": 33, "titleY": 109, "titleBaseline": "alphabetic"}},
    "y": {"field": "y", "type": "quantitative",
      "scale": {"domain": [-70, -30], "nice": false, "zero": false},
      "axis": {"orient": "left", "offset": -7.4, "values": [-70,-67.5,-65,-62.5,-60,-57.5,-55,-52.5,-50,-47.5,-45,-42.5,-40,-37.5,-35,-32.5,-30],
        "labelExpr": "datum.value % 5 === 0 ? '' + datum.value : ''",
        "tickSize": {"condition": {"test": "datum.value % 5 === 0", "value": -15}, "value": -8},
        "labelPadding": 32,
        "title": "Intensité (dBm)", "titleFontSize": 34, "titleX": -107.7, "titleY": 400, "titleAngle": 270, "titleBaseline": "middle", "titleAlign": "center"}},
    "detail": {"field": "g"}
   }
  },
  {
   "data": {"name": "bB"},
   "mark": {"type": "text", "text": "//", "font": "DejaVu Sans", "fontWeight": "normal", "fontSize": 34, "baseline": "middle", "align": "center", "color": "black"},
   "encoding": {
    "x": {"field": "x", "type": "quantitative",
      "axis": {"orient": "top", "values": [763,763.5,764,764.5,765,765.5,766,766.5,1731,1734,1737,1740,1743,1746,1749], "labels": false, "title": null,
        "tickSize": {"condition": {"test": "indexof([763,764,765,766,1734,1740,1746], datum.value) >= 0", "value": -13}, "value": -7}}},
    "y": {"field": "y", "type": "quantitative",
      "axis": {"orient": "right", "values": [-70,-67.5,-65,-62.5,-60,-57.5,-55,-52.5,-50,-47.5,-45,-42.5,-40,-37.5,-35,-32.5,-30], "labels": false, "title": null,
        "tickSize": {"condition": {"test": "datum.value % 5 === 0", "value": -15}, "value": -8}}}
   }
  },
  {
   "data": {"name": "bS"},
   "mark": {"type": "rule", "strokeWidth": 3},
   "encoding": {
    "x": {"field": "x", "type": "quantitative", "axis": null}, "y": {"field": "y", "type": "quantitative", "axis": null},
    "x2": {"field": "x2"}, "y2": {"field": "y2"},
    "color": {"field": "c", "type": "nominal", "scale": {"domain": ["s","i","p","K","ang"], "range": ["#e8141c","#22dd22","#000000","#0b1670","#1a1ae6"]}, "legend": null}
   }
  },
  {
   "data": {"name": "bD"},
   "mark": {"type": "rule", "strokeWidth": 2.8, "strokeDash": [7, 5], "color": "#0b1670"},
   "encoding": {
    "x": {"field": "x", "type": "quantitative", "axis": null}, "y": {"field": "y", "type": "quantitative", "axis": null},
    "x2": {"field": "x2"}, "y2": {"field": "y2"}
   }
  },
  {
   "data": {"name": "bH"},
   "mark": {"type": "point", "shape": "triangle-right", "filled": true, "size": 230, "opacity": 1},
   "encoding": {
    "x": {"field": "x", "type": "quantitative", "axis": null}, "y": {"field": "y", "type": "quantitative", "axis": null},
    "angle": {"field": "a", "type": "quantitative", "scale": {"domain": [0, 360], "range": [0, 360]}, "legend": null},
    "color": {"field": "c", "type": "nominal", "scale": {"domain": ["s","i","p","K","ang"], "range": ["#e8141c","#22dd22","#000000","#0b1670","#1a1ae6"]}, "legend": null}
   }
  },
  {
   "data": {"name": "bT"}, "transform": [{"filter": "datum.r === 'vec'"}],
   "mark": {"type": "text", "align": "left", "fontSize": 32},
   "encoding": {
    "x": {"field": "x", "type": "quantitative", "axis": null}, "y": {"field": "y", "type": "quantitative", "axis": null},
    "text": {"field": "t"},
    "color": {"field": "c", "type": "nominal", "scale": {"domain": ["s","i","p","K","ang"], "range": ["#e8141c","#22dd22","#000000","#0b1670","#1a1ae6"]}, "legend": null}
   }
  },
  {
   "data": {"name": "bT"}, "transform": [{"filter": "datum.r === 'sub'"}],
   "mark": {"type": "text", "align": "left", "fontSize": 21},
   "encoding": {
    "x": {"field": "x", "type": "quantitative", "axis": null}, "y": {"field": "y", "type": "quantitative", "axis": null},
    "text": {"field": "t"},
    "color": {"field": "c", "type": "nominal", "scale": {"domain": ["s","i","p","K","ang"], "range": ["#e8141c","#22dd22","#000000","#0b1670","#1a1ae6"]}, "legend": null}
   }
  },
  {
   "data": {"name": "bT"}, "transform": [{"filter": "datum.r === 'ang'"}],
   "mark": {"type": "text", "align": "left", "fontSize": 31},
   "encoding": {
    "x": {"field": "x", "type": "quantitative", "axis": null}, "y": {"field": "y", "type": "quantitative", "axis": null},
    "text": {"field": "t"},
    "color": {"field": "c", "type": "nominal", "scale": {"domain": ["s","i","p","K","ang"], "range": ["#e8141c","#22dd22","#000000","#0b1670","#1a1ae6"]}, "legend": null}
   }
  },
  {
   "data": {"name": "bT"}, "transform": [{"filter": "datum.r === 'peak'"}],
   "mark": {"type": "text", "align": "center", "fontSize": 34},
   "encoding": {
    "x": {"field": "x", "type": "quantitative", "axis": null}, "y": {"field": "y", "type": "quantitative", "axis": null},
    "text": {"field": "t"},
    "color": {"field": "c", "type": "nominal", "scale": {"domain": ["s","i","p","K","ang"], "range": ["#e8141c","#22dd22","#000000","#0b1670","#1a1ae6"]}, "legend": null}
   }
  },
  {
   "data": {"name": "bT"}, "transform": [{"filter": "datum.r === 'panel'"}],
   "mark": {"type": "text", "align": "center", "fontSize": 38},
   "encoding": {
    "x": {"field": "x", "type": "quantitative", "axis": null}, "y": {"field": "y", "type": "quantitative", "axis": null},
    "text": {"field": "t"},
    "color": {"field": "c", "type": "nominal", "scale": {"domain": ["s","i","p","K","ang"], "range": ["#e8141c","#22dd22","#000000","#0b1670","#1a1ae6"]}, "legend": null}
   }
  }
 ]
}
]
}
